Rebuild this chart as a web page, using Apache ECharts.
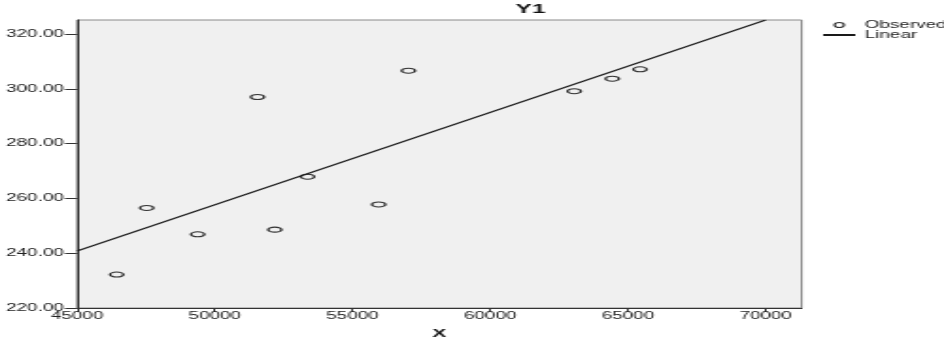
<!DOCTYPE html>
<html>
<head>
<meta charset="utf-8">
<script src="https://cdn.jsdelivr.net/npm/echarts@6/dist/echarts.min.js"></script>
<style>
html,body{margin:0;padding:0;background:#fff;overflow:hidden;}
#wrap{width:944px;height:345px;overflow:hidden;}
#c{width:500px;height:345px;transform:scaleX(1.888);transform-origin:0 0;}
</style>
</head>
<body>
<div id="wrap"><div id="c"></div></div>
<script>
// Observed points (X, Y1)
const obsX = [46440, 47530, 49380, 51550, 52180, 53370, 55950, 57030, 63050, 64430, 65440];
const obsY = [232.2, 256.5, 246.9, 297.0, 248.6, 267.9, 257.8, 306.6, 299.1, 303.7, 307.1];
// Linear fit line end points
const fitX = [45000, 70000];
const fitY = [240.8, 325.1];
// Tick labels
const xTicks = [45000, 50000, 55000, 60000, 65000, 70000];
const yTicks = [220, 240, 260, 280, 300, 320];

const chart = echarts.init(document.getElementById('c'));
const font = '"Liberation Sans", Arial, sans-serif';
chart.setOption({
  animation: false,
  backgroundColor: '#ffffff',
  title: {
    text: 'Y1', left: 273, top: 3, padding: 0,
    textStyle: {fontFamily: font, fontSize: 13, fontWeight: 'bold', color: '#111'}
  },
  legend: {
    orient: 'vertical', left: 435, top: 20, padding: 0, itemGap: 0,
    itemWidth: 17, itemHeight: 5,
    textStyle: {fontFamily: font, fontSize: 10, color: '#222', lineHeight: 9},
    data: [
      {name: 'Observed', icon: 'circle', itemStyle: {color: '#ffffff', borderColor: '#333', borderWidth: 1.2}},
      {name: 'Linear', itemStyle: {opacity: 0}}
    ]
  },
  grid: {
    left: 40.8, right: 75.4, top: 20, bottom: 37,
    show: true, backgroundColor: '#f0f0f0', borderColor: '#8a8a8a', borderWidth: 1
  },
  xAxis: {
    type: 'value', min: 45000, max: 71307, interval: 5000,
    name: 'X', nameLocation: 'middle', nameGap: 20,
    nameTextStyle: {fontFamily: font, fontSize: 11, fontWeight: 'bold', color: '#111'},
    axisLine: {show: true, lineStyle: {color: '#333', width: 1}},
    axisTick: {show: true, length: 4, lineStyle: {color: '#333'}, customValues: xTicks},
    axisLabel: {fontFamily: font, fontSize: 10, color: '#222', margin: 3, customValues: xTicks,
      formatter: v => String(v)},
    splitLine: {show: false}
  },
  yAxis: {
    type: 'value', min: 220, max: 325.1, interval: 20,
    axisLine: {show: true, lineStyle: {color: '#333', width: 1}},
    axisTick: {show: true, length: 6.4, lineStyle: {color: '#333'}, customValues: yTicks},
    axisLabel: {fontFamily: font, fontSize: 10, color: '#222', margin: 7, customValues: yTicks,
      formatter: v => v.toFixed(2)},
    splitLine: {show: false}
  },
  series: [
    {
      name: 'Observed', type: 'scatter',
      symbol: 'circle', symbolSize: [7, 5],
      itemStyle: {color: '#f0f0f0', borderColor: '#333', borderWidth: 1.2, opacity: 1},
      data: obsX.map((x, i) => [x, obsY[i]])
    },
    {
      name: 'Linear', type: 'line', symbol: 'none', showSymbol: false,
      lineStyle: {color: '#1a1a1a', width: 1.2},
      itemStyle: {color: '#1a1a1a'},
      data: fitX.map((x, i) => [x, fitY[i]])
    }
  ]
});
</script>
</body>
</html>
